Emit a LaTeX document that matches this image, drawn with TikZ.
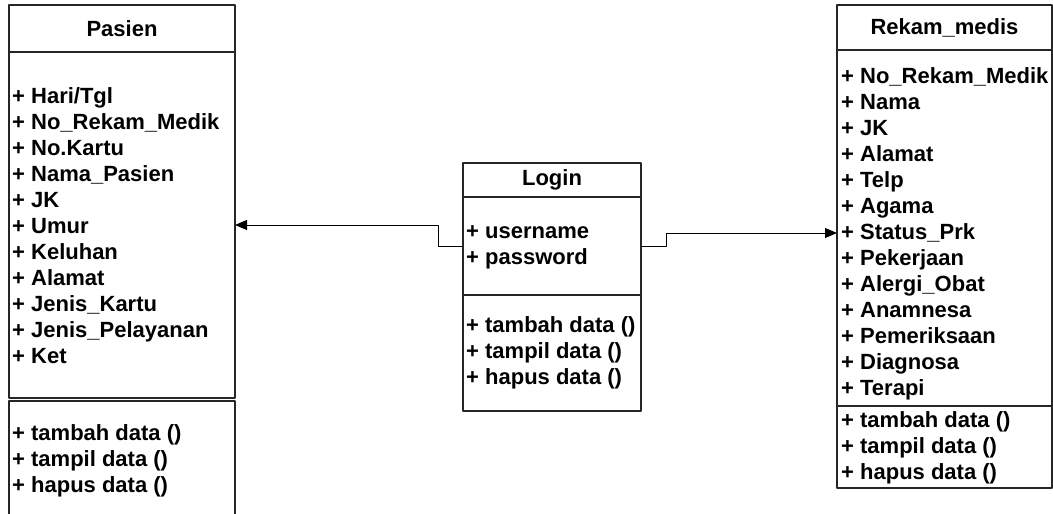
\documentclass[tikz,border=0pt]{standalone}
\usepackage{fontspec}
\setmainfont{Liberation Sans}
\usetikzlibrary{arrows.meta}
\tikzset{
  part/.style={draw=black!85, line width=1.1pt, inner sep=0pt, outer sep=0pt, anchor=north west},
  members/.style={anchor=west, align=left, inner sep=0pt, font=\fontsize{22}{26}\selectfont\bfseries},
  title/.style={font=\fontsize{22}{26}\selectfont\bfseries},
  link/.style={line width=1pt, -{Triangle[length=12pt,width=10pt]}}
}
\begin{document}
\begin{tikzpicture}[x=1pt, y=-1pt, line join=round]
\useasboundingbox (0,0) rectangle (1053,514);
% Pasien
\node[part, minimum width=226pt, minimum height=47pt] (phead) at (9,5) {};
\node[part, minimum width=226pt, minimum height=346pt] (pattr) at (9,52) {};
\node[part, draw=none, minimum width=226pt, minimum height=113pt] (pops) at (9,401) {};
\draw[draw=black!85, line width=1.1pt] (pops.south west) |- (pops.north east) -- (pops.south east);
\node[title] at (phead.center) {Pasien};
\node[members] (plist) at ([xshift=3pt,yshift=-1pt]pattr.west) {+ Hari/Tgl\\+ No\_Rekam\_Medik\\+ No.Kartu\\+ Nama\_Pasien\\+ JK\\+ Umur\\+ Keluhan\\+ Alamat\\+ Jenis\_Kartu\\+ Jenis\_Pelayanan\\+ Ket};
\node[members] (pfun) at (12,461) {+ tambah data ()\\+ tampil data ()\\+ hapus data ()};
% Login
\node[part, minimum width=178pt, minimum height=34pt] (lhead) at (463,163) {};
\node[part, minimum width=178pt, minimum height=98pt] (lattr) at (463,197) {};
\node[part, minimum width=178pt, minimum height=116pt] (lops) at (463,295) {};
\node[title] at (lhead.center) {Login};
\node[members] (llist) at ([xshift=3pt,yshift=-1pt]lattr.west) {+ username\\+ password};
\node[members] (lfun) at (466,353) {+ tambah data ()\\+ tampil data ()\\+ hapus data ()};
% Rekam_medis
\node[part, minimum width=215pt, minimum height=45pt] (rhead) at (837,5) {};
\node[part, minimum width=215pt, minimum height=356pt] (rattr) at (837,50) {};
\node[part, minimum width=215pt, minimum height=82pt] (rops) at (837,406) {};
\node[title] at (rhead.center) {Rekam\_medis};
\node[members] (rlist) at (841,234) {+ No\_Rekam\_Medik\\+ Nama\\+ JK\\+ Alamat\\+ Telp\\+ Agama\\+ Status\_Prk\\+ Pekerjaan\\+ Alergi\_Obat\\+ Anamnesa\\+ Pemeriksaan\\+ Diagnosa\\+ Terapi};
\node[members] (rfun) at ([xshift=4pt,yshift=-1pt]rops.west) {+ tambah data ()\\+ tampil data ()\\+ hapus data ()};
% connectors
\draw[link] (lattr.west) -- ++(-25,0) |- (pattr.east);
\draw[link] (lattr.east) -- ++(25,0) |- ([yshift=-5pt]rattr.west);
\end{tikzpicture}
\end{document}
